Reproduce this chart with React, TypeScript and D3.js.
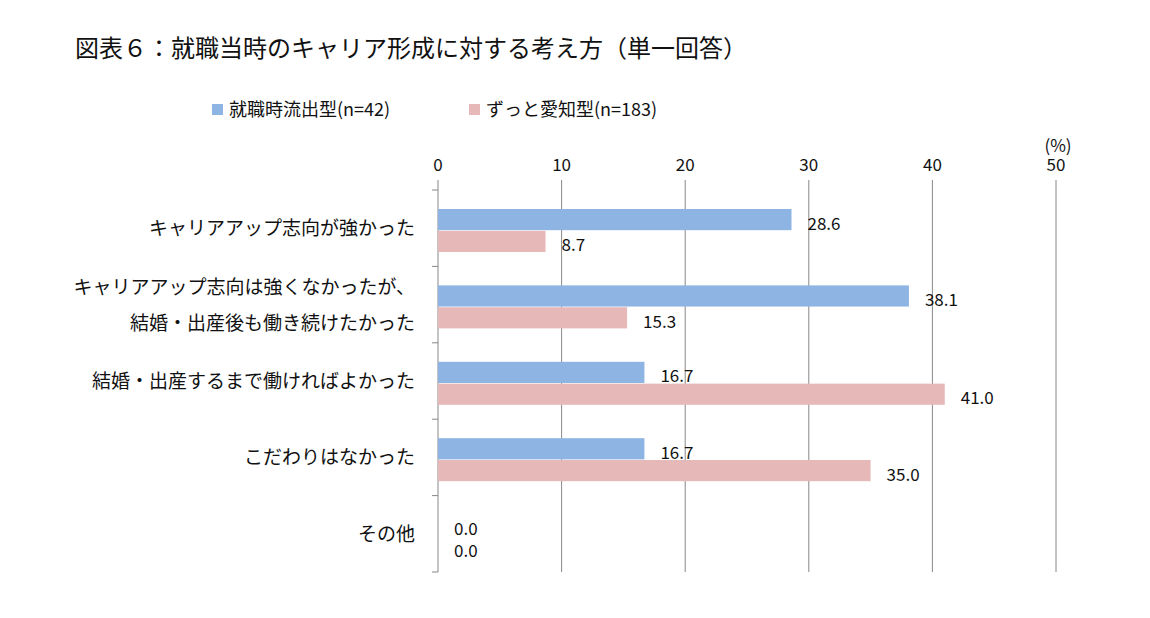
import * as d3 from "d3";

const categories = [
  ["キャリアアップ志向が強かった"],
  ["キャリアアップ志向は強くなかったが、", "結婚・出産後も働き続けたかった"],
  ["結婚・出産するまで働ければよかった"],
  ["こだわりはなかった"],
  ["その他"],
];
const seriesNames = ["就職時流出型(n=42)", "ずっと愛知型(n=183)"];
const seriesColors = ["#8eb4e3", "#e6b9b8"];
const blueValues = [28.6, 38.1, 16.7, 16.7, 0.0];
const pinkValues = [8.7, 15.3, 41.0, 35.0, 0.0];
const ticks = [0, 10, 20, 30, 40, 50];

const font = "'Noto Sans CJK JP', 'Noto Sans', sans-serif";

export default function App() {
  const W = 1150, H = 618;
  const x = d3.scaleLinear().domain([0, 50]).range([438, 1056]);
  const y = d3.scaleBand<number>().domain(d3.range(categories.length)).range([190, 572]);
  const inner = d3.scaleBand<number>().domain([0, 1]).range([19, 62]).paddingInner(0.03);
  const series = [blueValues, pinkValues];

  return (
    <svg width={W} height={H} style={{ position: "absolute", left: 0, top: 0, background: "#fff" }} fontFamily={font}>
      <text x={75} y={57} fontSize={24} fill="#111" fontWeight={400}>図表６：就職当時のキャリア形成に対する考え方（単一回答）</text>
      {seriesNames.map((n, i) => (
        <g key={n} transform={`translate(${[212, 469][i]},104)`}>
          <rect width={11} height={11} fill={seriesColors[i]} />
          <text x={17} y={12} fontSize={18} fill="#111">{n}</text>
        </g>
      ))}
      {ticks.map((t) => (
        <g key={t}>
          {t > 0 && <line x1={x(t)} x2={x(t)} y1={180} y2={572} stroke="#888" />}
          <text x={x(t)} y={171} fontSize={17} textAnchor="middle" fill="#111">{t}</text>
        </g>
      ))}
      <text x={1058} y={152} fontSize={17} textAnchor="middle" fill="#111">(%)</text>
      <line x1={438} x2={438} y1={180} y2={572} stroke="#888" />
      {d3.range(categories.length + 1).map((i) => {
        const yy = i < categories.length ? y(i)! : 572;
        return <line key={i} x1={432} x2={438} y1={yy} y2={yy} stroke="#888" />;
      })}
      {categories.map((lines, i) => {
        const cy = y(i)! + y.bandwidth() / 2;
        return (
          <text key={i} x={415} fontSize={19} textAnchor="end" fill="#111">
            {lines.map((l, j) => (
              <tspan key={j} x={415} y={cy + 7 + (j - (lines.length - 1) / 2) * 36}>{l}</tspan>
            ))}
          </text>
        );
      })}
      {series.map((vals, s) =>
        vals.map((v, i) => {
          const by = y(i)! + inner(s)!;
          return (
            <g key={`${s}-${i}`}>
              <rect x={x(0)} y={by} width={x(v) - x(0)} height={inner.bandwidth()} fill={seriesColors[s]} />
              <text x={x(v) + 16} y={by + inner.bandwidth() / 2 + 10} fontSize={17} fill="#111">{v.toFixed(1)}</text>
            </g>
          );
        })
      )}
    </svg>
  );
}
